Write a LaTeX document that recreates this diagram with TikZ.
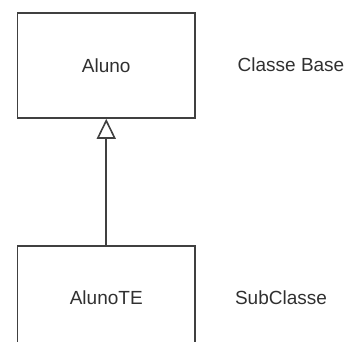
\documentclass[tikz,border=0pt]{standalone}
\usepackage{fontspec}
\setmainfont{Liberation Sans}
\usetikzlibrary{arrows.meta}
\definecolor{lin}{HTML}{404040}
\definecolor{txt}{HTML}{303030}
\tikzset{
  classbox/.style={draw=lin, line width=1.6pt, fill=white, minimum width=177.5pt, inner sep=0pt, text=txt, font=\fontsize{19}{22}\selectfont},
  lbl/.style={text=txt, font=\fontsize{19}{22}\selectfont, inner sep=0pt},
  inherit/.style={draw=lin, line width=1.6pt, -{Triangle[open, width=19pt, length=20pt, fill=white]}}
}
\begin{document}
\begin{tikzpicture}[x=1pt,y=1pt]
\useasboundingbox (0,0) rectangle (355,-341);
\clip (0,0) rectangle (355,-341);
\node[classbox, minimum height=105pt] (base) at (106.25,-65.5) {Aluno};
\node[classbox, minimum height=104pt] (sub) at (106.25,-298) {AlunoTE};
\node[lbl] (lb) at (291,-65) {Classe Base};
\node[lbl] (ls) at (281,-298) {SubClasse};
\draw[inherit] (sub.north) -- (base.south);
\end{tikzpicture}
\end{document}
